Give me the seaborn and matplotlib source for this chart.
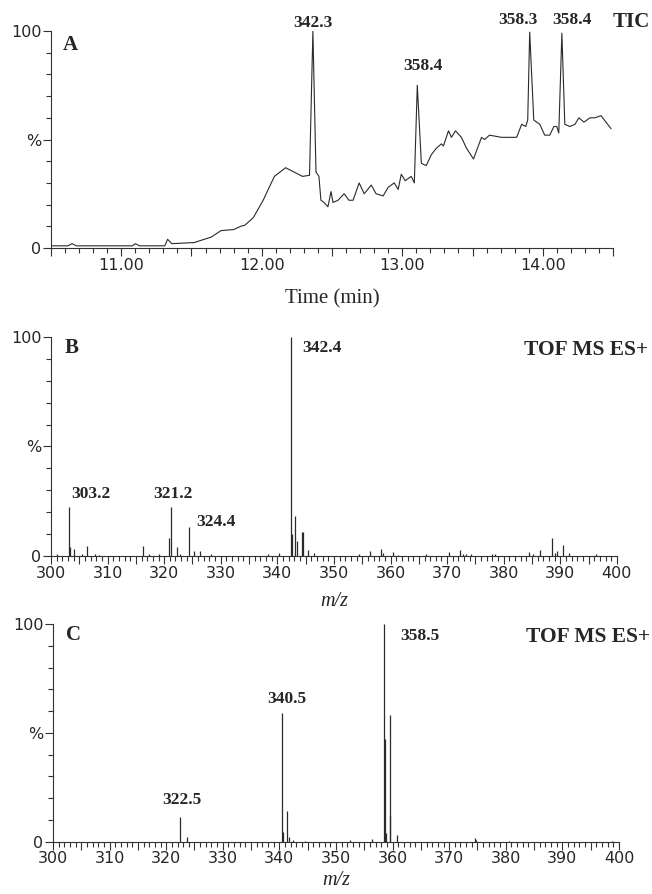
import numpy as np
import pandas as pd
import matplotlib
matplotlib.use('Agg')
import matplotlib.pyplot as plt
import seaborn as sns

sns.set_theme(style='ticks')
plt.rcParams['font.family'] = ['DejaVu Sans']

# ---- data ----
# A: total ion chromatogram
tic_time = [10.51, 10.62, 10.65, 10.68, 11.08, 11.10, 11.13, 11.31, 11.33, 11.36,
            11.52, 11.59, 11.64, 11.71, 11.80, 11.85, 11.88, 11.94, 12.01, 12.09,
            12.17, 12.23, 12.29, 12.34, 12.364, 12.386, 12.407, 12.421, 12.443, 12.471,
            12.493, 12.507, 12.543, 12.586, 12.621, 12.65, 12.693, 12.729, 12.779, 12.814,
            12.864, 12.90, 12.943, 12.971, 12.993, 13.021, 13.064, 13.086, 13.107, 13.136,
            13.171, 13.207, 13.243, 13.279, 13.293, 13.329, 13.35, 13.379, 13.421, 13.457,
            13.507, 13.564, 13.586, 13.621, 13.707, 13.793, 13.814, 13.85, 13.879, 13.893,
            13.907, 13.936, 13.957, 13.979, 14.014, 14.05, 14.079, 14.10, 14.114, 14.136,
            14.157, 14.193, 14.229, 14.257, 14.293, 14.336, 14.371, 14.414, 14.45, 14.486]
tic_int = [1.0, 1.0, 2.0, 1.0, 1.0, 2.0, 1.0, 1.0, 4.0, 2.0,
           2.5, 4.0, 5.0, 8.0, 8.5, 10.0, 10.5, 14.0, 22.0, 33.0,
           37.0, 35.0, 33.0, 33.5, 100.0, 35.0, 33.0, 22.0, 21.0, 19.0,
           26.0, 21.0, 22.0, 25.0, 22.0, 22.0, 30.0, 25.0, 29.0, 25.0,
           24.0, 28.0, 30.0, 27.0, 34.0, 31.0, 33.0, 30.0, 75.0, 39.0,
           38.0, 43.0, 46.0, 48.0, 47.0, 54.0, 51.0, 54.0, 51.0, 46.0,
           41.0, 51.0, 50.0, 52.0, 51.0, 51.0, 51.0, 57.0, 56.0, 59.0,
           99.5, 59.0, 58.0, 57.0, 52.0, 52.0, 56.0, 56.0, 53.0, 99.0,
           57.0, 56.0, 57.0, 60.0, 58.0, 60.0, 60.0, 61.0, 58.0, 55.0]
tic_labels = ['342.3', '358.4', '358.3', '358.4']
tic_label_x = [12.364, 13.15, 13.82, 14.21]
tic_label_y = [103.5, 84, 105, 105]

# B: spectrum of the 342 peak
b_mz = [301.1, 303.2, 303.4, 304.1, 305.5, 306.3, 307.8, 308.5, 316.3, 317.4,
        319.1, 320.9, 321.2, 322.2, 322.8, 324.4, 325.3, 326.3, 328.2, 338.3,
        340.3, 342.4, 342.6, 343.1, 343.5, 344.3, 344.5, 345.5, 346.4, 354.5,
        356.4, 358.3, 358.6, 360.4, 361.3, 366.3, 370.3, 372.3, 372.8, 373.4,
        374.3, 377.9, 378.4, 384.5, 385.2, 386.4, 388.6, 389.0, 389.5, 390.5,
        391.6, 396.3]
b_int = [1.0, 22.2, 4.3, 3.0, 1.0, 4.6, 1.0, 0.5, 4.6, 1.0,
         0.8, 8.0, 22.2, 4.0, 1.0, 13.4, 2.3, 2.3, 1.0, 0.8,
         1.5, 100.0, 10.0, 18.3, 7.0, 10.8, 11.0, 2.7, 1.2, 0.8,
         2.4, 3.0, 1.2, 2.0, 0.5, 0.8, 2.0, 2.7, 1.0, 0.8,
         0.8, 0.8, 0.8, 2.0, 0.8, 2.7, 8.1, 1.2, 2.3, 5.0,
         1.2, 0.8]
b_labels = ['303.2', '321.2', '324.4', '342.4']
b_label_x = [307.1, 321.6, 329.2, 347.9]
b_label_y = [28.3, 28.3, 15.5, 95]

# C: spectrum of the 358 peaks
c_mz = [322.5, 323.6, 340.5, 340.6, 341.3, 341.7, 342.4, 344.5, 352.4, 356.4,
        358.4, 358.6, 358.9, 359.5, 359.6, 360.7, 374.5, 374.8, 380.6, 398.7]
c_int = [11.5, 2.0, 59.3, 4.6, 14.1, 2.3, 0.8, 0.5, 0.8, 1.2,
         100.0, 47.0, 3.8, 12.0, 58.2, 3.0, 1.5, 0.8, 0.5, 0.5]
c_labels = ['322.5', '340.5', '358.5']
c_label_x = [322.8, 341.3, 364.8]
c_label_y = [19.2, 65.5, 94.5]

tic_df = pd.DataFrame({'time': tic_time, 'intensity': tic_int})

# ---- figure ----
fig = plt.figure(figsize=(6.52, 8.94), dpi=100)
axA = fig.add_axes([0.0782, 0.7226, 0.862, 0.2427])
axB = fig.add_axes([0.0782, 0.3781, 0.868, 0.2450])
axC = fig.add_axes([0.0813, 0.0585, 0.868, 0.2435])

serif = 'Liberation Serif'
lab_kw = dict(family=serif, fontweight='bold', fontsize=12.5, ha='center', va='center', clip_on=False)
line_col = '#2a2a2a'
spine_col = '#333333'


def style_axis(ax):
    sns.despine(ax=ax)
    for s in ['left', 'bottom']:
        ax.spines[s].set_color(spine_col)
        ax.spines[s].set_linewidth(0.8)
    ax.set_ylim(0, 100)
    ax.set_yticks([0, 50, 100])
    ax.set_yticklabels(['0', '%', '100'])
    ax.set_yticks(np.arange(0, 101, 10), minor=True)
    ax.tick_params(axis='both', which='major', length=6, width=0.8, color=spine_col,
                   labelsize=11.5, pad=1)
    ax.tick_params(axis='both', which='minor', length=3.5, width=0.8, color=spine_col)
    ax.set_ylabel('')


# A
sns.lineplot(data=tic_df, x='time', y='intensity', ax=axA, color=line_col, lw=0.8)
style_axis(axA)
axA.set_xlim(10.5, 14.5)
axA.set_xticks(np.arange(10.5, 14.51, 0.5))
axA.set_xticklabels(['' if abs(v - round(v)) > 1e-6 else '%.2f' % v for v in np.arange(10.5, 14.51, 0.5)])
axA.set_xticks(np.arange(10.5, 14.51, 0.1), minor=True)
axA.set_xlabel('Time (min)', family=serif, fontsize=15, labelpad=12)
for t, x, y in zip(tic_labels, tic_label_x, tic_label_y):
    axA.text(x, y, t, **lab_kw)
axA.text(10.64, 93.5, 'A', family=serif, fontweight='bold', fontsize=15, ha='center', va='center')
axA.text(14.63, 104, 'TIC', family=serif, fontweight='bold', fontsize=15, ha='center', va='center', clip_on=False)


def spectrum(ax, mz, inten, labels, lx, ly, letter, pad):
    ax.vlines(mz, 0, inten, color=line_col, lw=0.9, clip_on=False)
    style_axis(ax)
    ax.set_xlim(300, 400)
    ticks = np.arange(300, 401, 5)
    ax.set_xticks(ticks)
    ax.set_xticklabels([str(v) if v % 10 == 0 else '' for v in ticks])
    ax.set_xticks(np.arange(300, 401, 1), minor=True)
    ax.set_xlabel('m/z', family=serif, style='italic', fontsize=14.5, labelpad=pad)
    for t, x, y in zip(labels, lx, ly):
        ax.text(x, y, t, **lab_kw)
    ax.text(303.6, 95, letter, family=serif, fontweight='bold', fontsize=15, ha='center', va='center')
    ax.text(394.6, 94, 'TOF MS ES+', family=serif, fontweight='bold', fontsize=15.5,
            ha='center', va='center', clip_on=False)


spectrum(axB, b_mz, b_int, b_labels, b_label_x, b_label_y, 'B', 8)
spectrum(axC, c_mz, c_int, c_labels, c_label_x, c_label_y, 'C', 3)

fig.savefig('out.png', dpi=100)
